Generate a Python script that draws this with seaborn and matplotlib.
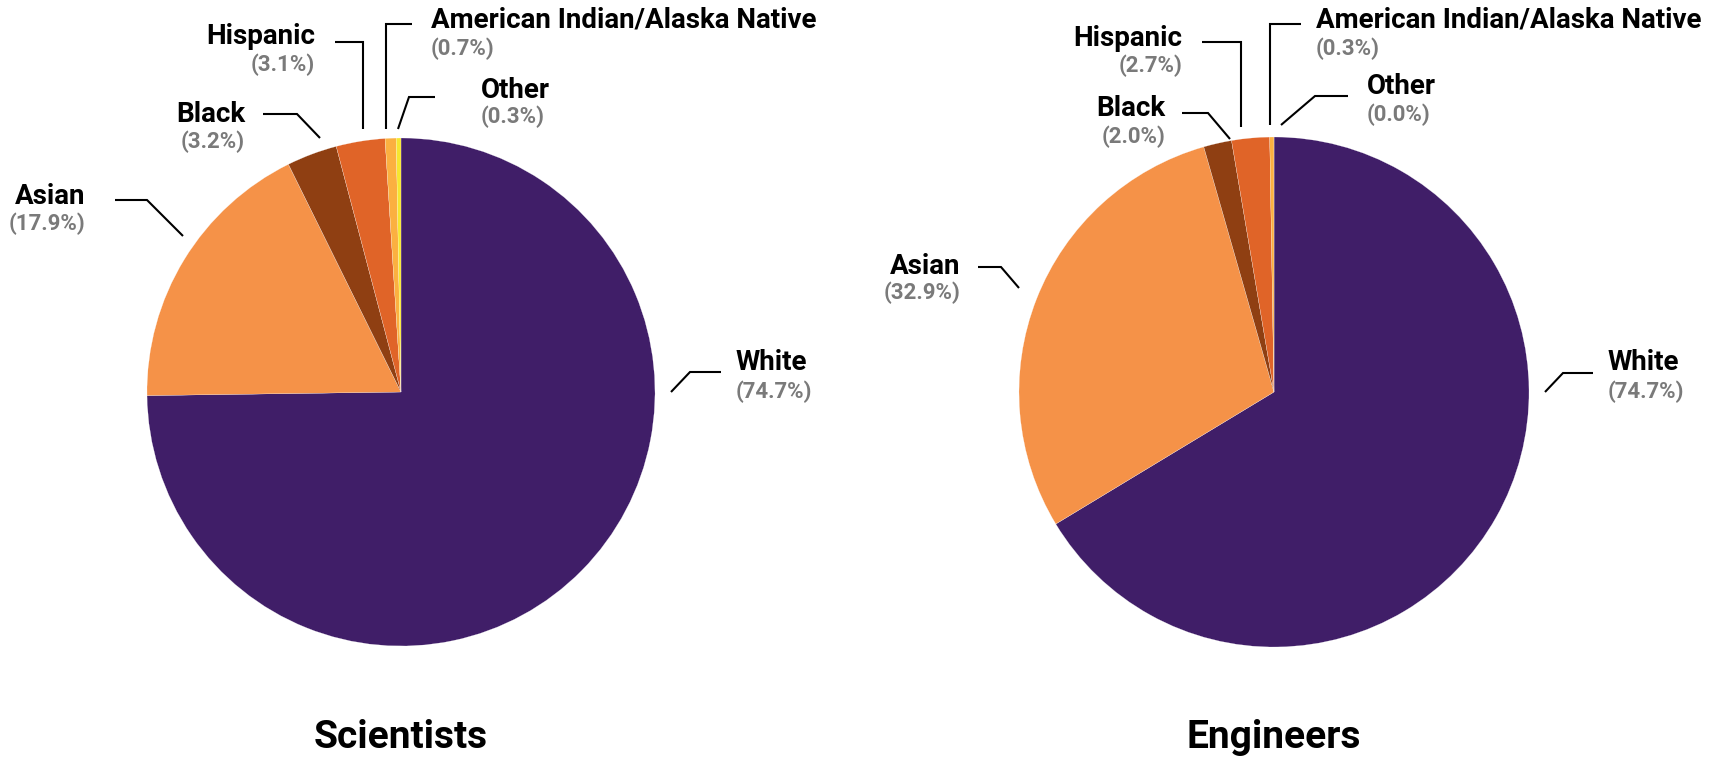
import matplotlib.pyplot as plt
import seaborn as sns

sns.set_style("white")
plt.rcParams["font.family"] = ["Roboto", "DejaVu Sans"]

# data
groups = ["White", "Asian", "Black", "Hispanic", "American Indian/Alaska Native", "Other"]
scientists = [74.7, 17.9, 3.2, 3.1, 0.7, 0.3]
engineers = [74.7, 32.9, 2.0, 2.7, 0.3, 0.0]
titles = ["Scientists", "Engineers"]

colors = ["#401e68", "#f59248", "#8f3f12", "#e06428", "#fbb040", "#f6e630"]

W, H = 1735, 757

# layout in pixels (x, y from top): pie center/radius
pie_layout = [((401, 392), 254), ((1274, 392), 255)]

# per label: text x, alignment, name y, pct y, leader points (outer -> pie)
label_layout = [
    {
        "White": (736, "left", 363, 392, [(721, 372), (690, 372), (671, 392)]),
        "Asian": (85, "right", 196, 224, [(115, 200), (147, 200), (183, 236)]),
        "Black": (245, "right", 114, 142, [(263, 114), (297, 114), (320, 138)]),
        "Hispanic": (315, "right", 37, 65, [(335, 42), (363, 42), (363, 129)]),
        "American Indian/Alaska Native": (431, "left", 20, 49, [(412, 24), (386, 24), (386, 129)]),
        "Other": (481, "left", 90, 117, [(435, 97), (409, 97), (398, 129)]),
    },
    {
        "White": (1608, "left", 363, 392, [(1593, 373), (1563, 373), (1545, 392)]),
        "Asian": (960, "right", 266, 293, [(978, 267), (1001, 267), (1019, 288)]),
        "Black": (1165, "right", 108, 137, [(1182, 113), (1208, 113), (1230, 139)]),
        "Hispanic": (1182, "right", 38, 66, [(1202, 42), (1241, 42), (1241, 127)]),
        "American Indian/Alaska Native": (1316, "left", 20, 49, [(1301, 24), (1270, 24), (1270, 125)]),
        "Other": (1367, "left", 87, 115, [(1348, 96), (1315, 96), (1281, 125)]),
    },
]

fig = plt.figure(figsize=(W / 100, H / 100), dpi=100)
ax = fig.add_axes([0, 0, 1, 1])

for values, title, ((cx, cy), r), labels in zip([scientists, engineers], titles, pie_layout, label_layout):
    ax.pie(values, colors=colors, startangle=90, counterclock=False,
           center=(cx, H - cy), radius=r, frame=True,
           wedgeprops=dict(edgecolor="white", linewidth=0.15))
    ax.text(cx, H - 738, title, ha="center", va="center", fontsize=28, fontweight="bold", color="black")

    for g, v in zip(groups, values):
        tx, ha, ny, py, pts = labels[g]
        ax.text(tx, H - ny, g, ha=ha, va="center", fontsize=20, fontweight="bold", color="black")
        ax.text(tx, H - py, f"({v:.1f}%)", ha=ha, va="center", fontsize=16, fontweight="semibold", color="#7a7a7a")
        ax.plot([p[0] for p in pts], [H - p[1] for p in pts], color="black", lw=1.5,
                solid_joinstyle="miter", solid_capstyle="butt")

ax.set_xlim(0, W)
ax.set_ylim(0, H)
ax.set_aspect("equal")
ax.axis("off")

fig.savefig("out.png", dpi=100)
